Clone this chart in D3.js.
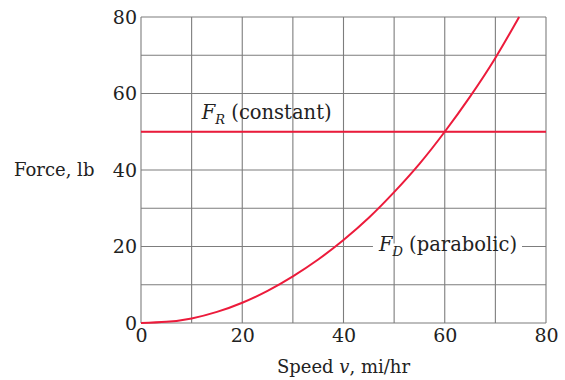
<!DOCTYPE html>
<html>
<head>
<meta charset="utf-8">
<script src="https://cdn.jsdelivr.net/npm/d3@7"></script>
<style>
  body { margin: 0; background: #fff; }
  text { font-family: "DejaVu Serif", "Liberation Serif", serif; fill: #222; }
</style>
</head>
<body>
<svg id="chart" width="565" height="380"></svg>
<script>
// values
const speedTicks = [0, 20, 40, 60, 80]
const forceTicks = [0, 20, 40, 60, 80]
const gridValues = [0, 10, 20, 30, 40, 50, 60, 70, 80]

// F_D (parabolic)
const dragSpeed = [0, 5, 10, 15, 20, 25, 30, 35, 40, 45, 50, 55, 60, 65, 70, 74.7]
const dragForce = [0, 0.3, 1.2, 2.9, 5.3, 8.4, 12.2, 16.6, 21.7, 27.5, 34.2, 41.6, 50, 59.2, 69.3, 80]

// F_R (constant)
const constSpeed = [0, 80]
const constForce = [50, 50]

const svg = d3.select("#chart")
const margin = {left: 141, top: 17, right: 19, bottom: 57}
const w = 565 - margin.left - margin.right
const h = 380 - margin.top - margin.bottom
const red = "#ec1b3b"
const gridCol = "#7d7d7d"
const fs = "18px"
const tickFs = "19px"
const labFs = "19.5px"

let x = d3.scaleLinear().domain([0, 80]).range([0, w])
let y = d3.scaleLinear().domain([0, 80]).range([h, 0])

let g = svg.append("g").attr("transform", `translate(${margin.left},${margin.top})`)

// grid
g.selectAll(".vgrid").data(gridValues).enter().append("line")
    .attr("x1", d => x(d)).attr("x2", d => x(d))
    .attr("y1", 0).attr("y2", h)
    .attr("stroke", gridCol).attr("stroke-width", 1.1)
g.selectAll(".hgrid").data(gridValues).enter().append("line")
    .attr("y1", d => y(d)).attr("y2", d => y(d))
    .attr("x1", 0).attr("x2", w)
    .attr("stroke", gridCol).attr("stroke-width", 1.1)

// axes: only labels, no domain or tick lines
let xAxis = g.append("g").attr("transform", `translate(0,${h})`)
    .call(d3.axisBottom(x).tickValues(speedTicks).tickSize(0).tickPadding(5))
let yAxis = g.append("g")
    .call(d3.axisLeft(y).tickValues(forceTicks).tickSize(0).tickPadding(4))
xAxis.select(".domain").remove()
yAxis.select(".domain").remove()
xAxis.selectAll("text").style("font-size", tickFs).attr("fill", "#222").attr("dy", "0.72em")
yAxis.selectAll("text").style("font-size", tickFs).attr("fill", "#222")

// constant line
let line = d3.line().x(d => x(d[0])).y(d => y(d[1]))
g.append("path")
    .datum(d3.zip(constSpeed, constForce))
    .attr("d", line)
    .attr("fill", "none").attr("stroke", red).attr("stroke-width", 2)

// FD label with white box (drawn before the curve)
let fdLab = g.append("text")
    .attr("x", x(47)).attr("y", y(20) + 4)
    .style("font-size", labFs)
fdLab.append("tspan").attr("font-style", "italic").text("F")
fdLab.append("tspan").attr("font-style", "italic").attr("font-size", "13px").attr("dy", "5").text("D")
fdLab.append("tspan").attr("dy", "-5").text(" (parabolic)")
let bb = fdLab.node().getBBox()
g.insert("rect", () => fdLab.node())
    .attr("x", bb.x - 5).attr("y", y(20) - 3).attr("width", bb.width + 10).attr("height", 6)
    .attr("fill", "#fff")

// parabolic curve
let curve = d3.line().x(d => x(d[0])).y(d => y(d[1])).curve(d3.curveNatural)
g.append("path")
    .datum(d3.zip(dragSpeed, dragForce))
    .attr("d", curve)
    .attr("fill", "none").attr("stroke", red).attr("stroke-width", 2)

// FR label
let frLab = g.append("text")
    .attr("x", x(12)).attr("y", y(50) - 13)
    .style("font-size", labFs)
frLab.append("tspan").attr("font-style", "italic").text("F")
frLab.append("tspan").attr("font-style", "italic").attr("font-size", "13px").attr("dy", "5").text("R")
frLab.append("tspan").attr("dy", "-5").text(" (constant)")

// axis titles
let xt = svg.append("text")
    .attr("x", margin.left + w / 2).attr("y", 373)
    .attr("text-anchor", "middle")
    .style("font-size", fs)
xt.append("tspan").text("Speed ")
xt.append("tspan").attr("font-style", "italic").text("v")
xt.append("tspan").text(", mi/hr")

svg.append("text")
    .attr("x", 14).attr("y", margin.top + y(40) + 6)
    .style("font-size", fs)
    .text("Force, lb")
</script>
</body>
</html>
